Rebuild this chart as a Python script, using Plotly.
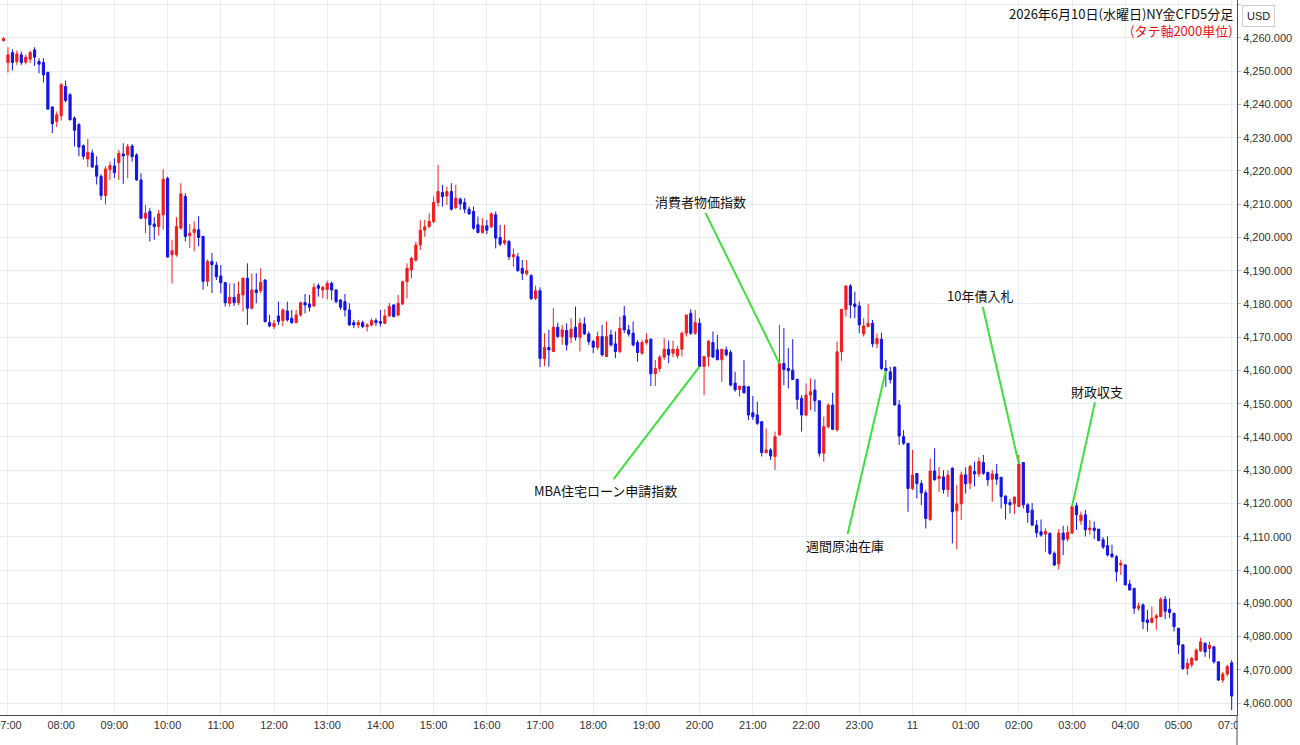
import plotly.graph_objects as go

# ---- candle index (5-minute bars; -1 = last bar of previous session) ----
candle_idx = list(range(-1, 277))

opens = [
    4259.2,
    4252.6, 4255.6, 4252.9, 4254.9, 4252.7, 4253.6, 4256.4, 4252.9, 4252.6, 4249.6, 4239.2, 4234.9,
    4236.6, 4245.4, 4242.9, 4235.9, 4233.9, 4227.6, 4223.6, 4225.4, 4221.6, 4218.4, 4212.6, 4220.4,
    4221.5, 4222.5, 4225.1, 4224.8, 4227.5, 4224.8, 4217.3, 4205.8, 4207.8, 4204.0, 4203.3, 4206.8,
    4217.8, 4194.8, 4194.8, 4202.8, 4212.3, 4200.5, 4201.5, 4202.3, 4200.3, 4186.8, 4192.8, 4191.7,
    4188.4, 4186.4, 4180.2, 4182.0, 4180.4, 4182.7, 4187.7, 4178.7, 4184.2, 4184.0, 4187.2, 4174.4,
    4173.2, 4176.4, 4175.0, 4177.9, 4175.7, 4174.4, 4176.7, 4180.4, 4180.0, 4179.4, 4185.5, 4184.2,
    4184.4, 4186.2, 4184.2, 4181.2, 4180.7, 4178.2, 4174.4, 4173.7, 4174.4, 4173.2, 4173.7, 4175.0,
    4174.7, 4174.2, 4176.4, 4179.7, 4176.7, 4180.0, 4186.7, 4190.2, 4193.2, 4197.7, 4202.2, 4203.3,
    4204.8, 4210.5, 4213.5, 4212.5, 4213.8, 4209.0, 4211.5, 4210.5, 4208.5, 4207.8, 4203.8, 4201.5,
    4203.5, 4203.2, 4206.8, 4200.0, 4198.3, 4198.8, 4194.2, 4194.2, 4190.7, 4189.1, 4188.5, 4181.7,
    4184.0, 4163.6, 4166.9, 4165.7, 4173.0, 4170.2, 4172.0, 4170.0, 4173.0, 4170.0, 4174.0, 4171.0,
    4168.7, 4167.0, 4170.2, 4164.2, 4170.7, 4168.0, 4165.7, 4176.4, 4172.2, 4171.2, 4168.4, 4165.2,
    4168.4, 4169.4, 4159.0, 4160.6, 4164.0, 4166.4, 4165.2, 4164.4, 4166.4, 4171.2, 4177.2, 4171.2,
    4174.2, 4161.2, 4164.2, 4168.4, 4166.2, 4163.2, 4166.2, 4165.4, 4156.2, 4154.3, 4155.3, 4155.1,
    4147.3, 4146.6, 4144.6, 4135.3, 4136.1, 4134.1, 4140.6, 4162.1, 4160.6, 4160.1, 4157.3, 4151.6,
    4146.6, 4152.6, 4154.1, 4150.9, 4135.1, 4143.1, 4149.6, 4142.1, 4165.6, 4178.4, 4185.4, 4180.0,
    4179.4, 4171.0, 4173.2, 4174.2, 4168.0, 4169.4, 4160.6, 4159.6, 4161.0, 4149.6, 4140.1, 4138.1,
    4124.5, 4129.0, 4126.0, 4123.2, 4115.2, 4129.8, 4127.5, 4128.0, 4124.2, 4130.6, 4117.8, 4119.9,
    4128.6, 4126.1, 4129.6, 4128.9, 4132.3, 4129.3, 4127.3, 4128.9, 4127.9, 4122.2, 4120.3, 4119.9,
    4119.1, 4132.3, 4119.6, 4118.0, 4113.5, 4111.5, 4110.8, 4111.0, 4105.0, 4101.8, 4111.1, 4109.3,
    4111.1, 4119.3, 4114.8, 4116.6, 4112.1, 4112.6, 4112.3, 4109.1, 4107.3, 4104.8, 4104.0, 4101.5,
    4101.5, 4095.8, 4094.5, 4088.5, 4089.5, 4085.0, 4084.2, 4085.6, 4086.0, 4091.2, 4088.2, 4087.0,
    4082.5, 4077.5, 4070.4, 4071.5, 4072.9, 4075.7, 4078.0, 4076.4, 4076.9, 4072.4, 4066.9, 4068.7,
    4072.1,
]

highs = [
    4260.2,
    4257.2, 4256.6, 4256.2, 4255.9, 4255.0, 4256.2, 4257.2, 4253.9, 4253.9, 4249.9, 4239.5, 4237.9,
    4246.4, 4247.2, 4243.4, 4236.4, 4234.4, 4228.0, 4229.6, 4226.4, 4224.4, 4219.0, 4221.4, 4222.8,
    4223.8, 4226.3, 4228.3, 4228.1, 4228.1, 4225.3, 4219.3, 4209.8, 4208.8, 4206.1, 4208.3, 4220.5,
    4218.3, 4199.3, 4206.1, 4216.3, 4213.3, 4204.0, 4204.8, 4206.4, 4200.5, 4193.3, 4195.3, 4192.7,
    4191.7, 4186.6, 4186.2, 4186.2, 4186.7, 4188.0, 4192.2, 4189.2, 4189.2, 4190.7, 4187.4, 4176.7,
    4175.2, 4180.7, 4178.7, 4180.7, 4178.2, 4178.2, 4180.7, 4183.0, 4182.7, 4186.2, 4186.2, 4185.4,
    4187.0, 4186.7, 4184.4, 4181.4, 4183.0, 4180.2, 4175.2, 4175.2, 4175.0, 4174.2, 4175.7, 4175.7,
    4178.2, 4178.4, 4180.4, 4180.0, 4182.7, 4187.0, 4192.2, 4194.2, 4198.7, 4205.2, 4205.3, 4207.3,
    4212.3, 4221.8, 4215.8, 4215.3, 4216.3, 4215.8, 4212.0, 4211.8, 4209.3, 4209.3, 4206.3, 4205.8,
    4205.3, 4207.5, 4207.8, 4203.8, 4203.8, 4199.3, 4196.7, 4195.3, 4193.2, 4193.2, 4189.0, 4185.5,
    4185.0, 4171.2, 4172.2, 4178.7, 4174.4, 4173.7, 4174.2, 4175.7, 4179.2, 4175.7, 4176.0, 4171.7,
    4169.2, 4171.7, 4173.7, 4174.7, 4172.2, 4171.7, 4176.2, 4179.4, 4173.7, 4174.7, 4169.2, 4169.2,
    4171.2, 4169.7, 4163.2, 4164.7, 4169.7, 4169.0, 4169.0, 4167.4, 4171.7, 4176.7, 4178.4, 4178.2,
    4175.7, 4164.2, 4169.2, 4171.7, 4170.7, 4166.4, 4167.2, 4166.2, 4159.6, 4155.3, 4163.1, 4155.3,
    4152.3, 4150.6, 4144.8, 4142.6, 4136.6, 4141.6, 4173.7, 4172.7, 4166.7, 4169.4, 4157.6, 4152.6,
    4156.1, 4157.6, 4157.3, 4151.1, 4146.1, 4150.1, 4153.3, 4168.7, 4178.4, 4185.6, 4186.0, 4183.7,
    4180.7, 4175.7, 4180.0, 4175.2, 4171.2, 4171.3, 4163.1, 4161.1, 4161.2, 4151.1, 4142.1, 4138.1,
    4136.1, 4129.2, 4127.0, 4124.0, 4133.5, 4136.6, 4131.0, 4130.0, 4130.0, 4130.9, 4125.6, 4129.6,
    4130.9, 4131.6, 4132.6, 4133.9, 4134.6, 4129.6, 4130.1, 4131.9, 4127.9, 4122.5, 4121.3, 4122.1,
    4134.6, 4132.4, 4120.1, 4120.1, 4115.0, 4115.2, 4112.5, 4111.3, 4105.6, 4112.3, 4113.3, 4113.3,
    4119.3, 4120.3, 4117.6, 4118.1, 4115.1, 4114.6, 4112.3, 4109.9, 4110.1, 4107.6, 4104.5, 4103.1,
    4101.8, 4097.0, 4094.5, 4090.2, 4090.0, 4088.0, 4089.0, 4086.8, 4091.8, 4092.2, 4091.5, 4087.0,
    4082.5, 4077.5, 4073.4, 4073.9, 4076.4, 4079.7, 4078.2, 4078.4, 4077.1, 4072.4, 4069.4, 4071.5,
    4072.9,
]

lows = [
    4258.9,
    4249.6, 4250.2, 4251.9, 4251.9, 4252.0, 4252.4, 4251.6, 4249.4, 4246.6, 4238.4, 4231.4, 4233.2,
    4235.2, 4240.6, 4235.2, 4227.4, 4224.4, 4223.4, 4221.2, 4220.9, 4215.9, 4211.2, 4209.9, 4217.3,
    4217.8, 4217.3, 4216.1, 4217.8, 4222.8, 4217.0, 4205.5, 4201.3, 4198.8, 4199.3, 4200.5, 4202.3,
    4194.0, 4186.2, 4194.2, 4202.3, 4198.8, 4196.8, 4195.8, 4197.3, 4184.3, 4185.3, 4183.3, 4187.2,
    4183.2, 4179.2, 4179.2, 4179.4, 4179.7, 4177.7, 4173.7, 4178.4, 4180.2, 4183.2, 4174.4, 4173.0,
    4172.4, 4173.7, 4173.4, 4174.7, 4174.0, 4174.2, 4176.2, 4177.2, 4177.7, 4179.2, 4182.2, 4181.7,
    4181.4, 4181.2, 4180.2, 4178.2, 4176.2, 4173.4, 4172.7, 4172.7, 4172.7, 4171.7, 4173.2, 4173.4,
    4173.2, 4174.0, 4176.2, 4176.0, 4176.2, 4179.7, 4181.7, 4187.7, 4192.7, 4196.2, 4200.2, 4202.8,
    4204.3, 4209.3, 4209.3, 4209.8, 4208.1, 4208.5, 4208.3, 4207.3, 4206.8, 4202.3, 4201.2, 4201.2,
    4201.0, 4202.8, 4196.7, 4197.4, 4197.7, 4193.2, 4191.2, 4189.7, 4187.2, 4188.5, 4181.2, 4181.2,
    4161.0, 4161.3, 4161.1, 4165.5, 4169.7, 4167.7, 4166.0, 4168.2, 4169.0, 4165.7, 4170.7, 4167.7,
    4165.2, 4166.2, 4164.2, 4164.0, 4167.2, 4163.7, 4165.2, 4171.2, 4170.2, 4167.2, 4162.7, 4164.7,
    4167.7, 4155.3, 4155.3, 4159.6, 4163.2, 4162.2, 4164.0, 4163.6, 4164.2, 4170.2, 4170.7, 4170.7,
    4161.2, 4152.6, 4161.2, 4164.0, 4163.2, 4156.6, 4164.2, 4155.2, 4153.6, 4152.1, 4153.1, 4145.1,
    4145.1, 4143.6, 4134.1, 4135.0, 4133.1, 4130.1, 4140.4, 4155.6, 4154.6, 4157.1, 4148.3, 4141.6,
    4146.2, 4148.1, 4147.6, 4134.1, 4132.6, 4142.6, 4142.1, 4141.6, 4162.9, 4176.2, 4175.7, 4175.7,
    4171.2, 4170.2, 4173.0, 4167.0, 4166.7, 4160.1, 4155.1, 4156.1, 4149.6, 4137.6, 4137.6, 4117.5,
    4124.0, 4121.5, 4119.5, 4112.5, 4114.8, 4126.8, 4123.5, 4123.0, 4122.0, 4108.0, 4106.2, 4115.0,
    4123.0, 4124.3, 4125.1, 4128.0, 4128.6, 4125.3, 4120.5, 4125.6, 4118.5, 4115.2, 4117.0, 4116.8,
    4118.9, 4118.5, 4114.2, 4113.2, 4109.8, 4110.0, 4105.5, 4104.5, 4101.2, 4100.2, 4104.5, 4108.6,
    4110.8, 4112.1, 4113.6, 4110.1, 4110.6, 4109.3, 4108.6, 4106.3, 4104.1, 4103.6, 4096.5, 4098.5,
    4095.5, 4093.8, 4086.8, 4087.8, 4082.2, 4081.5, 4084.0, 4082.0, 4085.8, 4085.2, 4085.5, 4081.5,
    4074.8, 4069.9, 4068.4, 4070.7, 4072.7, 4075.4, 4073.9, 4073.4, 4071.9, 4066.7, 4066.1, 4068.0,
    4057.9,
]

closes = [
    4259.8,
    4254.9, 4252.6, 4255.2, 4252.6, 4254.2, 4255.6, 4254.2, 4252.1, 4248.9, 4238.6, 4234.2, 4236.9,
    4245.9, 4241.2, 4235.4, 4232.2, 4227.2, 4224.4, 4225.6, 4221.2, 4218.4, 4212.6, 4220.6, 4221.6,
    4219.5, 4225.3, 4224.5, 4227.3, 4224.3, 4217.3, 4205.8, 4207.3, 4203.8, 4203.3, 4207.1, 4217.5,
    4194.1, 4196.0, 4203.3, 4213.1, 4200.3, 4201.3, 4202.5, 4200.0, 4186.8, 4192.8, 4191.8, 4188.2,
    4186.4, 4180.4, 4182.0, 4180.4, 4183.0, 4187.7, 4178.7, 4184.2, 4183.4, 4186.5, 4174.7, 4173.4,
    4174.2, 4174.7, 4178.2, 4175.2, 4174.4, 4176.7, 4180.4, 4179.7, 4179.0, 4185.0, 4184.7, 4185.0,
    4186.2, 4184.2, 4180.7, 4179.0, 4178.2, 4173.7, 4173.7, 4174.4, 4173.2, 4173.7, 4175.0, 4174.4,
    4174.2, 4176.4, 4179.2, 4176.2, 4180.2, 4186.7, 4190.7, 4193.7, 4197.7, 4202.2, 4203.2, 4204.8,
    4210.5, 4213.8, 4212.3, 4213.8, 4208.5, 4211.8, 4210.1, 4208.5, 4207.1, 4202.8, 4201.5, 4203.5,
    4202.2, 4207.1, 4199.8, 4198.0, 4199.1, 4194.2, 4194.8, 4190.0, 4189.2, 4190.0, 4181.6, 4184.0,
    4163.6, 4166.9, 4166.2, 4173.0, 4170.2, 4172.2, 4167.7, 4172.4, 4170.0, 4174.2, 4171.0, 4168.7,
    4167.0, 4170.2, 4164.7, 4170.2, 4167.7, 4165.7, 4172.7, 4172.2, 4171.0, 4167.7, 4165.4, 4168.4,
    4169.2, 4159.0, 4160.6, 4164.0, 4166.4, 4164.7, 4166.4, 4166.4, 4171.2, 4176.7, 4171.2, 4174.4,
    4161.2, 4164.2, 4168.7, 4164.0, 4163.2, 4166.4, 4164.7, 4155.6, 4154.2, 4155.3, 4153.3, 4146.6,
    4146.1, 4144.1, 4135.3, 4136.1, 4134.3, 4140.1, 4162.1, 4160.3, 4159.9, 4157.3, 4151.3, 4146.6,
    4152.6, 4153.6, 4150.9, 4135.1, 4143.1, 4149.6, 4142.3, 4165.6, 4178.4, 4185.4, 4179.7, 4179.2,
    4173.7, 4173.4, 4174.2, 4168.0, 4169.6, 4160.6, 4159.9, 4157.3, 4149.6, 4140.3, 4138.1, 4124.5,
    4128.5, 4126.0, 4123.2, 4115.5, 4129.8, 4127.2, 4128.2, 4124.2, 4128.5, 4117.5, 4119.9, 4128.6,
    4125.9, 4131.1, 4128.9, 4132.6, 4129.1, 4127.1, 4128.9, 4127.3, 4122.1, 4119.9, 4119.6, 4121.9,
    4131.9, 4119.6, 4117.3, 4113.5, 4111.2, 4110.5, 4111.6, 4105.0, 4101.5, 4111.1, 4109.1, 4111.3,
    4119.1, 4116.6, 4116.5, 4112.1, 4112.6, 4111.9, 4108.9, 4106.9, 4104.5, 4104.0, 4099.5, 4102.0,
    4095.5, 4094.0, 4088.5, 4089.2, 4084.5, 4084.2, 4085.5, 4086.2, 4091.2, 4087.6, 4087.2, 4083.0,
    4077.5, 4070.4, 4071.9, 4073.4, 4075.9, 4078.4, 4075.4, 4077.4, 4072.4, 4066.9, 4068.7, 4071.0,
    4062.1,
]

# ---- time-axis labels ----
tick_pos = [0, 12, 24, 36, 48, 60, 72, 84, 96, 108, 120, 132, 144, 156, 168, 180, 192, 204,
            216, 228, 240, 252, 264, 276]
tick_text = ["07:00", "08:00", "09:00", "10:00", "11:00", "12:00", "13:00", "14:00", "15:00",
             "16:00", "17:00", "18:00", "19:00", "20:00", "21:00", "22:00", "23:00", "11",
             "01:00", "02:00", "03:00", "04:00", "05:00", "07:00"]

# ---- event annotations ----
event_labels = ["消費者物価指数", "MBA住宅ローン申請指数", "週間原油在庫", "10年債入札", "財政収支"]
event_candle = [174, 156, 198, 228, 240]

title_text = "2026年6月10日(水曜日)NY金CFD5分足"
subtitle_text = "(タテ軸2000単位)"

UP = "#f21c1c"
DOWN = "#1414e6"
GRID = "#e8edf2"
AXIS = "#4a4a4a"
TXT = "#333333"

fig = go.Figure(
    go.Candlestick(
        x=candle_idx, open=opens, high=highs, low=lows, close=closes,
        increasing=dict(line=dict(color=UP, width=1), fillcolor=UP),
        decreasing=dict(line=dict(color=DOWN, width=1), fillcolor=DOWN),
        whiskerwidth=0, hoverinfo="skip",
    )
)

# text positions for the event labels (data coords: candle index, price)
label_pos = [(156.1, 4210.7), (134.7, 4124.0), (188.8, 4107.5), (219.3, 4182.4), (245.7, 4153.8)]
annots = []
for lab, ci, (tx, ty) in zip(event_labels, event_candle, label_pos):
    pos = candle_idx.index(ci)
    annots.append(dict(
        x=ci, y=closes[pos], xref="x", yref="y",
        ax=tx, ay=ty, axref="x", ayref="y",
        text=lab, showarrow=True, arrowhead=0, arrowwidth=2, arrowcolor="#3de03d",
        standoff=0, startstandoff=0,
        font=dict(size=13, color="#111111", family="Noto Sans CJK JP"),
    ))

PW, PH = 1237.0, 715.0
annots += [
    dict(xref="paper", yref="paper", x=1235 / PW, y=1 - 14 / PH, xanchor="right", yanchor="middle",
         text=title_text, showarrow=False,
         font=dict(size=13, color="#111111", family="Noto Sans CJK JP")),
    dict(xref="paper", yref="paper", x=1235 / PW, y=1 - 30 / PH, xanchor="right", yanchor="middle",
         text=subtitle_text, showarrow=False,
         font=dict(size=13, color="#ee1111", family="Noto Sans CJK JP")),
    dict(xref="paper", yref="paper", x=1258 / PW, y=1 - 16 / PH, xanchor="center", yanchor="middle",
         text="USD", showarrow=False, bordercolor="#cfcfcf", borderwidth=1, borderpad=4,
         bgcolor="white", font=dict(size=11, color="#222222", family="Liberation Sans")),
]

shapes = [
    dict(type="rect", xref="paper", yref="paper", x0=1237.6 / PW, x1=1300 / PW,
         y0=-30 / PH, y1=-0.6 / PH, fillcolor="white", line=dict(width=0), layer="above"),
    dict(type="line", xref="paper", yref="paper", x0=1.0, x1=1.0, y0=-30 / PH, y1=0,
         line=dict(color=AXIS, width=1), layer="above"),
]

fig.update_layout(
    width=1300, height=745,
    margin=dict(l=0, r=63, t=0, b=30, pad=0, autoexpand=False),
    paper_bgcolor="white", plot_bgcolor="white",
    showlegend=False,
    font=dict(family="Liberation Sans, Noto Sans CJK JP", size=11, color=TXT),
    annotations=annots,
    shapes=shapes,
    xaxis=dict(
        range=[-1.8, 277.2], tickmode="array", tickvals=tick_pos, ticktext=tick_text,
        showgrid=True, gridcolor=GRID, gridwidth=1, zeroline=False,
        showline=True, linecolor=AXIS, linewidth=1, ticks="",
        ticklabeloverflow="allow", automargin=False,
        tickfont=dict(size=11, color=TXT, family="Liberation Sans"),
        rangeslider=dict(visible=False), fixedrange=True,
    ),
    yaxis=dict(
        side="right", range=[4056.4, 4271.4], tick0=4060, dtick=10, tickformat=",.3f",
        showgrid=True, gridcolor=GRID, gridwidth=1, zeroline=False,
        showline=True, linecolor=AXIS, linewidth=1, ticks="outside", ticklen=3,
        tickcolor="#bbbbbb", automargin=False,
        tickfont=dict(size=11, color=TXT, family="Liberation Sans"), fixedrange=True,
    ),
)

fig.write_html("out.html")
